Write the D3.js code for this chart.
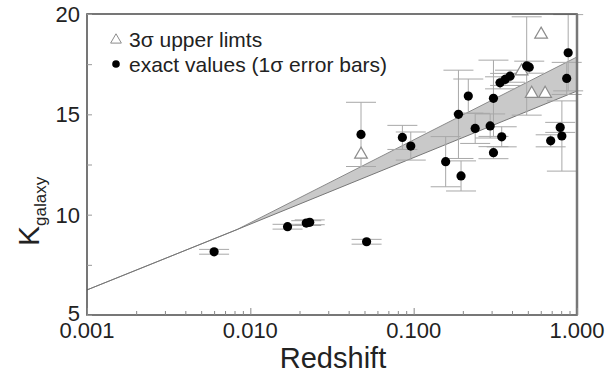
<!DOCTYPE html>
<html><head><meta charset="utf-8">
<script src="https://cdn.jsdelivr.net/npm/d3@7"></script>
<style>
html,body{margin:0;padding:0;background:#fff;}
svg{display:block;font-family:"Liberation Sans",Arial,Helvetica,sans-serif;}
</style></head>
<body>
<svg id="chart" width="607" height="376"></svg>
<script>
// ---------- data ----------
const exactZ   = [0.0060, 0.0169, 0.0220, 0.0231, 0.0515, 0.0476, 0.0853, 0.0960, 0.157, 0.195, 0.308, 0.346, 0.188, 0.216, 0.308, 0.238, 0.294, 0.338, 0.363, 0.389, 0.492, 0.510, 0.883, 0.865, 0.690, 0.789, 0.808];
const exactK   = [8.15,   9.40,   9.58,   9.62,   8.65,   14.0,   13.85,  13.42,  12.64, 11.93, 13.09, 13.88, 15.0,  15.91, 15.80, 14.30, 14.42, 16.57, 16.74, 16.90, 17.41, 17.35, 18.07, 16.79, 13.68, 14.35, 13.92];
const exactErr = [0.12,   0.12,   0.12,   0.12,   0.12,   1.6,    0.6,    0.7,    1.25,  0.75,  0.3,   0.5,   2.2,   0.85,  1.9,   0.75,  0.6,   0.3,   0.3,   0.3,   2.45,  0.3,   1.9,   0.8,   0.3,   0.25,  1.75];

const limitZ = [0.0476, 0.458, 0.528, 0.638, 0.603];
const limitK = [13.05,  17.2,  16.08, 16.08, 19.03];

// model curve (band)
const modelZ     = [0.001, 0.0083, 1.0];
const modelUpper = [6.25,  9.26,   17.86];
const modelLower = [6.25,  9.26,   16.16];

const xTicks = [0.001, 0.01, 0.1, 1];
const xTickLabels = ["0.001", "0.010", "0.100", "1.000"];
const yTicks = [5, 10, 15, 20];

// ---------- layout ----------
const svg = d3.select("#chart");
const L = 87, R = 577, T = 14, B = 315;
const x = d3.scaleLog().domain([0.001, 1]).range([L, R]);
const y = d3.scaleLinear().domain([5, 20]).range([B, T]);

// model band
const band = modelZ.map((z, i) => ({z, lo: modelLower[i], hi: modelUpper[i]}));
svg.append("path")
  .datum(band)
  .attr("d", d3.area().x(d => x(d.z)).y0(d => y(d.lo)).y1(d => y(d.hi)))
  .attr("fill", "#c9c9c9").attr("stroke", "none");
svg.append("path").datum(band)
  .attr("d", d3.line().x(d => x(d.z)).y(d => y(d.hi)))
  .attr("fill", "none").attr("stroke", "#8a8a8a").attr("stroke-width", 1);
svg.append("path").datum(band)
  .attr("d", d3.line().x(d => x(d.z)).y(d => y(d.lo)))
  .attr("fill", "none").attr("stroke", "#777").attr("stroke-width", 1);

// error bars
const capW = 15;
const errData = exactZ.map((z, i) => ({z, k: exactK[i], e: exactErr[i]}));
const eg = svg.append("g").attr("stroke", "#a8a8a8").attr("stroke-width", 1).attr("fill", "none");
errData.forEach(d => {
  const cx = x(d.z);
  eg.append("line").attr("x1", cx).attr("x2", cx).attr("y1", y(d.k - d.e)).attr("y2", y(d.k + d.e));
  eg.append("line").attr("x1", cx - capW).attr("x2", cx + capW).attr("y1", y(d.k + d.e)).attr("y2", y(d.k + d.e));
  eg.append("line").attr("x1", cx - capW).attr("x2", cx + capW).attr("y1", y(d.k - d.e)).attr("y2", y(d.k - d.e));
});

// upper limit triangles
const tri = d3.symbol().type(d3.symbolTriangle).size(70);
svg.append("g").selectAll("path")
  .data(limitZ.map((z, i) => ({z, k: limitK[i]})))
  .join("path")
  .attr("d", tri)
  .attr("transform", d => `translate(${x(d.z)},${y(d.k) + 1})`)
  .attr("fill", "#fff").attr("stroke", "#8c8c8c").attr("stroke-width", 1.2);

// exact points
svg.append("g").selectAll("circle")
  .data(errData).join("circle")
  .attr("cx", d => x(d.z)).attr("cy", d => y(d.k)).attr("r", 4.6)
  .attr("fill", "#000");

// frame
svg.append("rect").attr("x", L).attr("y", T).attr("width", R - L).attr("height", B - T)
  .attr("fill", "none").attr("stroke", "#555").attr("stroke-width", 1.6);
svg.append("line").attr("x1", R).attr("x2", R).attr("y1", T).attr("y2", B)
  .attr("stroke", "#777").attr("stroke-width", 2.5);

// x axis (ticks inside)
const xAxis = d3.axisBottom(x).tickValues(d3.range(-3, 0).flatMap(p => d3.range(1, 10).map(m => m * Math.pow(10, p))).concat([1]))
  .tickSize(-5).tickFormat("");
const gx = svg.append("g").attr("transform", `translate(0,${B})`).call(xAxis);
gx.select(".domain").remove();
gx.selectAll(".tick line").attr("stroke", "#888")
  .attr("y2", d => (Math.abs(Math.log10(d) - Math.round(Math.log10(d))) < 1e-6 ? -7 : -4));
svg.append("g").selectAll("text").data(xTicks).join("text")
  .attr("x", d => x(d)).attr("y", 338).attr("text-anchor", "middle")
  .attr("font-size", 22).attr("fill", "#222")
  .text((d, i) => xTickLabels[i]);

// y axis (ticks inside)
const yAxis = d3.axisLeft(y).tickValues(d3.range(5, 20.01, 2.5)).tickSize(-5).tickFormat("");
const gy = svg.append("g").attr("transform", `translate(${L},0)`).call(yAxis);
gy.select(".domain").remove();
gy.selectAll(".tick line").attr("stroke", "#999");
svg.append("g").selectAll("text").data(yTicks).join("text")
  .attr("x", 80).attr("y", d => y(d) - (d === 5 ? 2 : 0)).attr("dy", "0.36em").attr("text-anchor", "end")
  .attr("font-size", 22).attr("fill", "#222").text(d => d);

// axis titles
svg.append("text").attr("x", L + (R - L) / 2 + 1).attr("y", 368).attr("text-anchor", "middle")
  .attr("font-size", 29).attr("fill", "#222").text("Redshift");
const yl = svg.append("text").attr("transform", "translate(39,246) rotate(-90)")
  .attr("font-size", 30).attr("fill", "#222");
yl.append("tspan").text("K");
yl.append("tspan").attr("dy", 7).attr("font-size", 17).text("galaxy");

// legend
const lg = svg.append("g");
lg.append("path").attr("d", d3.symbol().type(d3.symbolTriangle).size(50))
  .attr("transform", "translate(116,40)").attr("fill", "#fff").attr("stroke", "#8c8c8c").attr("stroke-width", 1);
lg.append("text").attr("x", 129).attr("y", 47).attr("font-size", 21).attr("fill", "#222").text("3σ upper limts");
lg.append("circle").attr("cx", 116).attr("cy", 64).attr("r", 3.8).attr("fill", "#000");
lg.append("text").attr("x", 129).attr("y", 72).attr("font-size", 21).attr("fill", "#222").text("exact values (1σ error bars)");
</script>
</body></html>
